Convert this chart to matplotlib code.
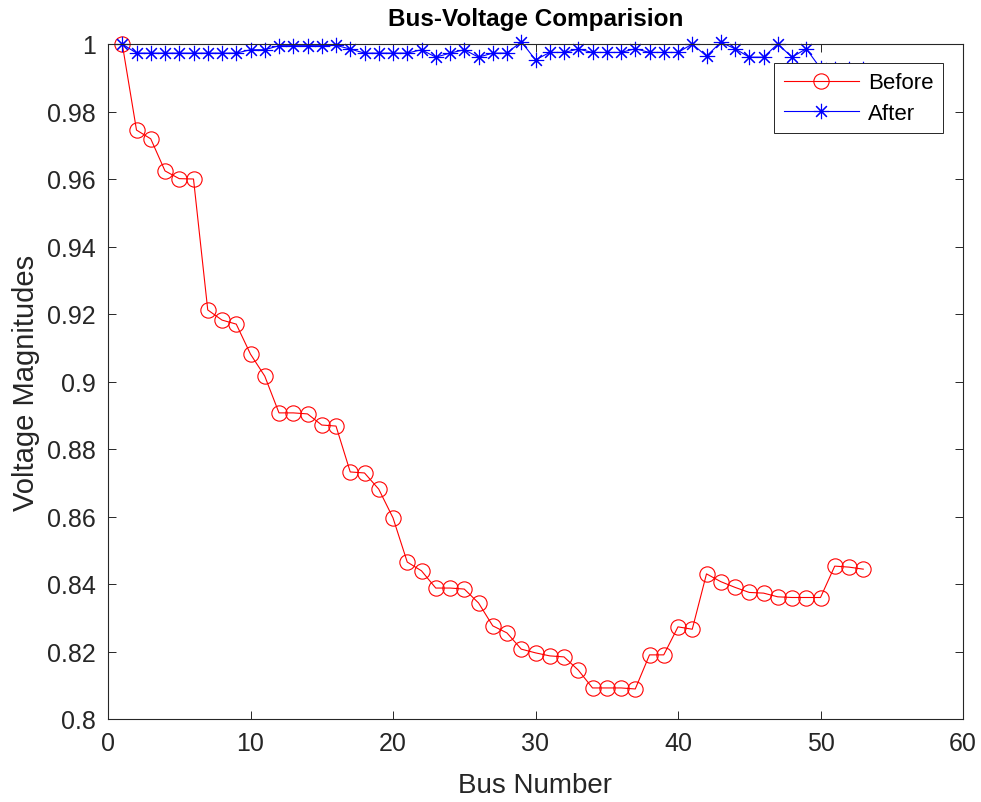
import matplotlib
matplotlib.use("Agg")
import matplotlib.pyplot as plt
from matplotlib.ticker import FixedLocator

plt.rcParams['font.family'] = ['Liberation Sans', 'DejaVu Sans']

bus = list(range(1, 54))

v_before = [1.0, 0.9745, 0.9719, 0.9624, 0.9601, 0.9600, 0.9212, 0.9182, 0.9170, 0.9081,
            0.9016, 0.8907, 0.8907, 0.8904, 0.8871, 0.8868, 0.8732, 0.8729, 0.8681, 0.8596,
            0.8465, 0.8439, 0.8388, 0.8388, 0.8385, 0.8344, 0.8276, 0.8255, 0.8207, 0.8196,
            0.8187, 0.8184, 0.8145, 0.8092, 0.8092, 0.8092, 0.8089, 0.8190, 0.8190, 0.8273,
            0.8266, 0.8430, 0.8407, 0.8390, 0.8375, 0.8373, 0.8362, 0.8360, 0.8360, 0.8360,
            0.8453, 0.8450, 0.8444]

v_after = [1.0, 0.9973, 0.9973, 0.9973, 0.9973, 0.9973, 0.9973, 0.9973, 0.9973, 0.9983,
           0.9983, 0.9995, 0.9995, 0.9995, 0.9995, 0.9996, 0.9985, 0.9973, 0.9973, 0.9973,
           0.9973, 0.9983, 0.9961, 0.9973, 0.9983, 0.9961, 0.9973, 0.9973, 1.0007, 0.9953,
           0.9975, 0.9975, 0.9985, 0.9975, 0.9975, 0.9975, 0.9986, 0.9975, 0.9975, 0.9975,
           1.0000, 0.9964, 1.0005, 0.9986, 0.9961, 0.9961, 1.0000, 0.9961, 0.9986, 0.9928,
           0.9926, 0.9926, 0.9926]

x_ticks = [0, 10, 20, 30, 40, 50, 60]
y_ticks = [0.8, 0.82, 0.84, 0.86, 0.88, 0.9, 0.92, 0.94, 0.96, 0.98, 1.0]
y_tick_labels = ['0.8', '0.82', '0.84', '0.86', '0.88', '0.9', '0.92', '0.94', '0.96', '0.98', '1']

axis_col = (0.15, 0.15, 0.15)

fig = plt.figure(figsize=(9.81, 8.03), dpi=100)
ax = fig.add_axes([108 / 981, 1 - 720 / 803, 855 / 981, 675 / 803])

ax.plot(bus, v_before, color='red', lw=0.8, marker='o', ms=11, mfc='none',
        mec='red', mew=0.8, label='Before', clip_on=False)
ax.plot(bus, v_after, color='blue', lw=0.8, marker=(8, 2, 0), ms=11,
        mec='blue', mew=0.8, label='After', clip_on=False)

ax.set_xlim(0, 60)
ax.set_ylim(0.8, 1.0)
ax.xaxis.set_major_locator(FixedLocator(x_ticks))
ax.set_yticks(y_ticks)
ax.set_yticklabels(y_tick_labels)

ax.tick_params(direction='in', length=6, width=0.7, colors=axis_col,
               labelsize=18, top=True, right=True, pad=9)
for s in ax.spines.values():
    s.set_color(axis_col)
    s.set_linewidth(0.8)

ax.set_title('Bus-Voltage Comparision', fontsize=17.5, fontweight='bold', pad=14)
ax.set_xlabel('Bus Number', fontsize=20, color=axis_col, labelpad=12)
ax.set_ylabel('Voltage Magnitudes', fontsize=21, color=axis_col, labelpad=5)

leg = ax.legend(loc='upper right', bbox_to_anchor=(0.9766, 0.9719), borderaxespad=0,
                fontsize=16, fancybox=False, framealpha=1, edgecolor=axis_col,
                handlelength=3.4, handletextpad=0.4, labelspacing=0.42, borderpad=0.42)
leg.get_frame().set_linewidth(0.7)

fig.savefig('out.png', dpi=100)
